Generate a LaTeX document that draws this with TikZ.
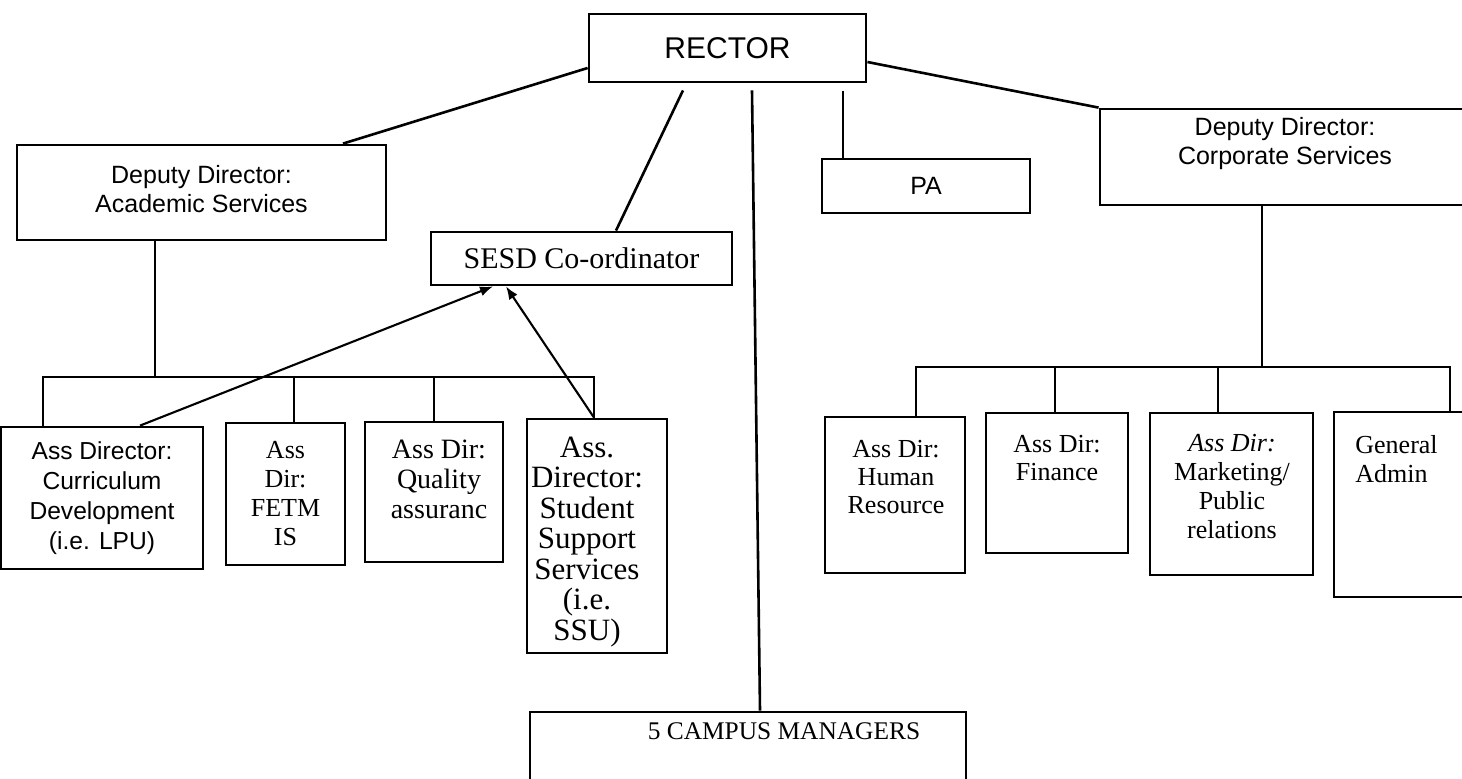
\documentclass[tikz,border=0pt]{standalone}
\usepackage{fontspec}
\setmainfont{Liberation Serif}
\setsansfont{Liberation Sans}
\usetikzlibrary{arrows.meta}
\begin{document}
\begin{tikzpicture}[x=0.5pt,y=-0.5pt,
  orgbox/.style={draw, line width=1.4pt, inner sep=0pt, rectangle},
  link/.style={line width=1.3pt},
  feed/.style={line width=1.05pt, -{Latex[length=6.5pt,width=5pt]}},
  lbl/.style={align=center, inner sep=0pt}]
\useasboundingbox (0,0) rectangle (1462,778);
\clip (0,0) rectangle (1462,778);

% top level
\node[orgbox, minimum width=138.5pt, minimum height=34pt,
      font=\sffamily\fontsize{15}{18}\selectfont] (rector) at (727.5,48) {RECTOR};
\node[orgbox, minimum width=184.5pt, minimum height=47.5pt] (depacad) at (201.5,192.5) {};
\node[lbl, font=\sffamily\fontsize{12.5}{14.5}\selectfont] (depacadlbl) at (201.5,189)
  {Deputy Director:\\Academic Services};
\node[orgbox, minimum width=104pt, minimum height=27pt,
      font=\sffamily\fontsize{12.5}{15}\selectfont] (pa) at (926,186) {PA};
\node[orgbox, minimum width=185pt, minimum height=48pt] (corp) at (1285,157) {};
\node[lbl, font=\sffamily\fontsize{12.5}{14.5}\selectfont] (corplbl) at (1285,144)
  {Deputy Director:\\Corporate Services};
\node[orgbox, minimum width=150.5pt, minimum height=26.5pt,
      font=\fontsize{15}{18}\selectfont] (sesd) at (581.5,258.5) {SESD Co-ordinator};

% academic services units
\node[orgbox, minimum width=101pt, minimum height=71pt, align=center,
      font=\sffamily\fontsize{12.3}{15}\selectfont] (curr) at (102,498)
  {Ass Director:\\Curriculum\\Development\\(i.e. LPU)};
\node[orgbox, minimum width=59.5pt, minimum height=71pt, align=center,
      font=\fontsize{13}{14.5}\selectfont] (fetm) at (285.5,494)
  {Ass\\Dir:\\FETM\\IS};
\node[orgbox, minimum width=69pt, minimum height=70pt] (qa) at (434,492) {};
\node[lbl, font=\fontsize{14}{15}\selectfont] (qalbl) at (439,479)
  {Ass Dir:\\Quality\\assuranc};
\node[orgbox, minimum width=70pt, minimum height=117pt] (ssu) at (597,536) {};
\node[lbl, font=\fontsize{15.5}{15.25}\selectfont] (ssulbl) at (587,542)
  {Ass.\\Director:\\Student\\Support\\Services\\(i.e.\\SSU)};

% corporate services units
\node[orgbox, minimum width=70pt, minimum height=78pt] (hr) at (895,495) {};
\node[lbl, font=\fontsize{13}{14.2}\selectfont] (hrlbl) at (896,477)
  {Ass Dir:\\Human\\Resource};
\node[orgbox, minimum width=71pt, minimum height=70pt] (fin) at (1057,483) {};
\node[lbl, font=\fontsize{13}{14.2}\selectfont] (finlbl) at (1057,458)
  {Ass Dir:\\Finance};
\node[orgbox, minimum width=81.5pt, minimum height=81pt] (mkt) at (1231.5,494) {};
\node[lbl, font=\fontsize{13}{14.5}\selectfont] (mktlbl) at (1232,487)
  {\textit{Ass Dir:}\\Marketing/\\Public\\relations};
\node[orgbox, minimum width=73pt, minimum height=92.5pt] (ga) at (1407,504.5) {};
\node[lbl, align=left, anchor=west, font=\fontsize{13}{14.2}\selectfont] (galbl) at (1355,459)
  {General\\Admin};

% campuses
\node[orgbox, minimum width=218pt, minimum height=44pt] (campus) at (748,756) {};
\node[lbl, font=\fontsize{12.7}{15}\selectfont] (campuslbl) at (784,731) {5 CAMPUS MANAGERS};

% lines from the rector
\draw[link] ([yshift=-10pt]rector.west) -- ([xshift=70.75pt]depacad.north);
\draw[link] ([xshift=-22.25pt,yshift=-3.5pt]rector.south) -- ([xshift=17.25pt]sesd.north);
\draw[link] ([xshift=12.25pt,yshift=-3.5pt]rector.south) -- ([xshift=6pt]campus.north);
\draw[link] ([xshift=57.75pt,yshift=-4pt]rector.south) -- ([xshift=-41.5pt]pa.north);
\draw[link] ([yshift=-7pt]rector.east) -- (corp.north west);

% academic services tree
\coordinate (abus) at (155,377);
\draw[link] (depacad.south -| abus) -- (abus);
\draw[link] ([xshift=-29.5pt]curr.north) |- (abus) -| ([xshift=-1.5pt]ssu.north);
\draw[link] ([xshift=4.25pt]fetm.north) -- ([xshift=4.25pt]fetm.north |- abus);
\draw[link] (qa.north) -- (qa.north |- abus);

% corporate services tree
\coordinate (cbus) at (1262,367);
\draw[link] (corp.south -| cbus) -- (cbus);
\draw[link] ([xshift=10.5pt]hr.north) |- (cbus) -| ([xshift=21.5pt]ga.north);
\draw[link] ([xshift=-1pt]fin.north) -- ([xshift=-1pt]fin.north |- cbus);
\draw[link] ([xshift=-6.75pt]mkt.north) -- ([xshift=-6.75pt]mkt.north |- cbus);

% reporting lines to the SESD co-ordinator
\draw[feed] ([xshift=19pt]curr.north) -- ([xshift=-44.25pt]sesd.south);
\draw[feed] ([xshift=-1.5pt]ssu.north) -- ([xshift=-37.75pt]sesd.south);
\end{tikzpicture}
\end{document}
